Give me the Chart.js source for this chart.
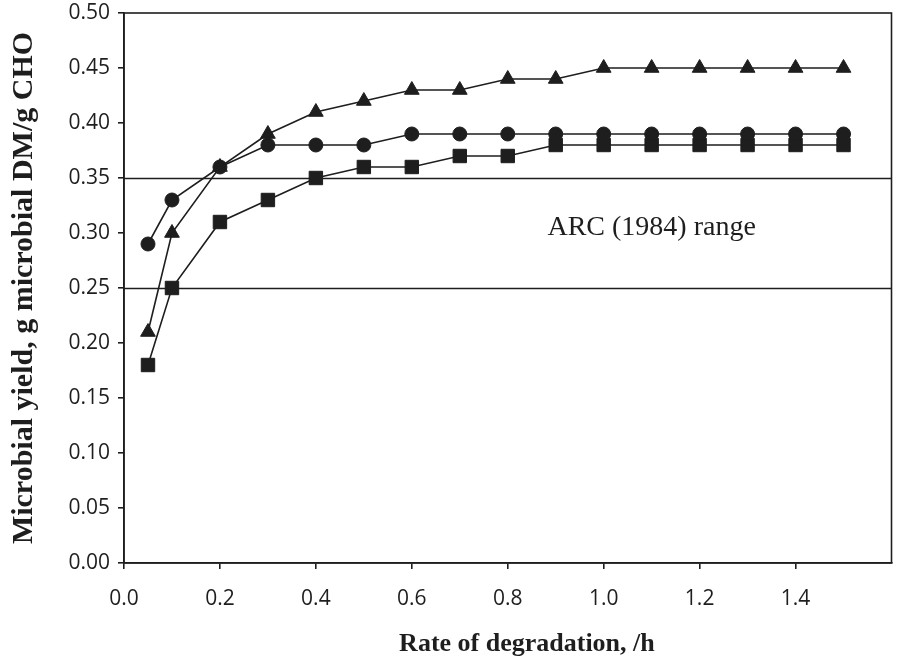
<!DOCTYPE html>
<html>
<head>
<meta charset="utf-8">
<title>Microbial yield vs rate of degradation</title>
<script src="https://cdn.jsdelivr.net/npm/chart.js@4.4.1/dist/chart.umd.min.js"></script>
<style>
    html, body { margin: 0; padding: 0; background: #fff; }
    #wrap { width: 902px; height: 663px; }
</style>
</head>
<body>
<div id="wrap"><canvas id="yieldChart" width="902" height="663"></canvas></div>
<script>
// rate of degradation (/h)
const rates = [0.05, 0.1, 0.2, 0.3, 0.4, 0.5, 0.6, 0.7, 0.8, 0.9, 1.0, 1.1, 1.2, 1.3, 1.4, 1.5];

// microbial yield, g microbial DM/g CHO
const circleYield   = [0.29, 0.33, 0.36, 0.38, 0.38, 0.38, 0.39, 0.39, 0.39, 0.39, 0.39, 0.39, 0.39, 0.39, 0.39, 0.39];
const triangleYield = [0.21, 0.30, 0.36, 0.39, 0.41, 0.42, 0.43, 0.43, 0.44, 0.44, 0.45, 0.45, 0.45, 0.45, 0.45, 0.45];
const squareYield   = [0.18, 0.25, 0.31, 0.33, 0.35, 0.36, 0.36, 0.37, 0.37, 0.38, 0.38, 0.38, 0.38, 0.38, 0.38, 0.38];

// ARC (1984) range bounds and where its label sits
const arcRange = [0.25, 0.35];
const arcLabel = { text: "ARC (1984) range", x: 1.1, y: 0.305 };

const xTitle = { text: "Rate of degradation, /h", x: 0.84 };

const ink = "#1e1e1e";

function toPoints(values) {
    return rates.map((r, i) => ({ x: r, y: values[i] }));
}

function series(values, style, radius) {
    return {
        data: toPoints(values),
        borderColor: ink,
        backgroundColor: ink,
        borderWidth: 1.6,
        pointStyle: style,
        pointRadius: radius,
        pointHoverRadius: radius,
        pointBorderWidth: 1,
        tension: 0
    };
}

// frame, ARC lines and the free text labels
const decorPlugin = {
    id: "decor",
    beforeDatasetsDraw(chart) {
        const { ctx, chartArea: a, scales: { x, y } } = chart;
        ctx.save();
        ctx.strokeStyle = ink;
        ctx.lineWidth = 1.6;
        arcRange.forEach(v => {
            const py = Math.round(y.getPixelForValue(v)) + 0.5;
            ctx.beginPath();
            ctx.moveTo(a.left, py);
            ctx.lineTo(a.right, py);
            ctx.stroke();
        });
        ctx.strokeRect(a.left, a.top, a.right - a.left, a.bottom - a.top);

        ctx.fillStyle = ink;
        ctx.textAlign = "center";
        ctx.textBaseline = "middle";
        ctx.font = "28px 'Liberation Serif', 'DejaVu Serif', serif";
        ctx.fillText(arcLabel.text, x.getPixelForValue(arcLabel.x), y.getPixelForValue(arcLabel.y));

        ctx.font = "bold 26px 'Liberation Serif', 'DejaVu Serif', serif";
        ctx.fillText(xTitle.text, x.getPixelForValue(xTitle.x), a.bottom + 81);
        ctx.restore();
    }
};

new Chart(document.getElementById("yieldChart").getContext("2d"), {
    type: "line",
    data: {
        datasets: [
            series(triangleYield, "triangle", 8.5),
            series(circleYield, "circle", 7),
            series(squareYield, "rect", 9.5)
        ]
    },
    options: {
        responsive: false,
        animation: false,
        events: [],
        layout: { padding: { top: 13, right: 10, left: 0, bottom: 0 } },
        plugins: {
            legend: { display: false },
            tooltip: { enabled: false }
        },
        scales: {
            x: {
                type: "linear",
                min: 0,
                max: 1.6,
                afterFit: s => { s.height = 100; s.paddingLeft = 0; s.paddingRight = 0; },
                ticks: {
                    stepSize: 0.2,
                    color: ink,
                    padding: 17,
                    font: { family: "'Open Sans', 'Noto Sans', sans-serif", size: 21 },
                    callback: v => (v > 1.55 ? null : v.toFixed(1))
                },
                grid: { drawOnChartArea: false, drawTicks: true, tickLength: 6, color: ink, lineWidth: 1.6 },
                border: { display: true, color: ink, width: 1.6 }
            },
            y: {
                min: 0,
                max: 0.5,
                afterFit: s => { s.width = 124; s.paddingTop = 0; s.paddingBottom = 0; },
                ticks: {
                    stepSize: 0.05,
                    color: ink,
                    padding: 8,
                    font: { family: "'Open Sans', 'Noto Sans', sans-serif", size: 21 },
                    callback: v => v.toFixed(2)
                },
                grid: { drawOnChartArea: false, drawTicks: true, tickLength: 6, color: ink, lineWidth: 1.6 },
                border: { display: true, color: ink, width: 1.6 },
                title: {
                    display: true,
                    text: "Microbial yield, g microbial DM/g CHO",
                    color: ink,
                    padding: { top: 6, bottom: 4 },
                    font: { family: "'Liberation Serif', 'DejaVu Serif', serif", size: 30, weight: "bold" }
                }
            }
        }
    },
    plugins: [decorPlugin]
});
</script>
</body>
</html>
